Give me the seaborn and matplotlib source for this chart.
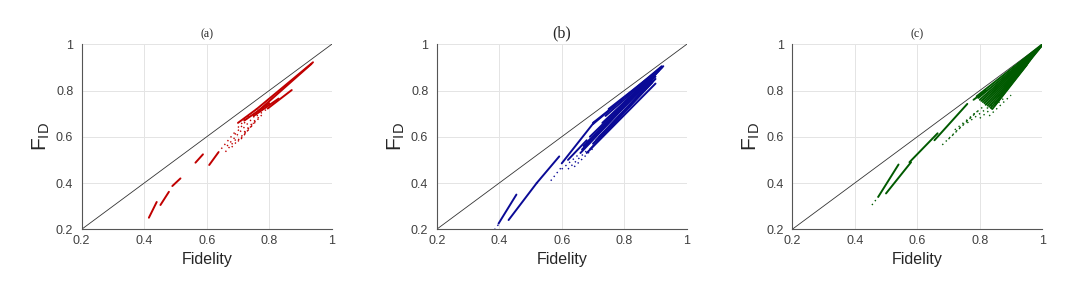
import pandas as pd
import seaborn as sns
import matplotlib.pyplot as plt

# Style
sns.set_theme(style="whitegrid")
plt.rcParams['font.family'] = ['Liberation Sans', 'DejaVu Sans']
plt.rcParams['mathtext.fontset'] = 'custom'
plt.rcParams['mathtext.rm'] = 'Liberation Sans'
plt.rcParams['mathtext.it'] = 'Liberation Sans'

# Streaks: (x0, y0, x1, y1) in data units
a_solid = [(0.415, 0.250, 0.440, 0.318), (0.452, 0.305, 0.479, 0.362),
           (0.490, 0.387, 0.516, 0.420), (0.564, 0.488, 0.588, 0.524),
           (0.608, 0.478, 0.637, 0.532), (0.700, 0.660, 0.760, 0.720),
           (0.760, 0.720, 0.940, 0.922), (0.765, 0.712, 0.935, 0.915),
           (0.720, 0.670, 0.800, 0.745), (0.750, 0.690, 0.830, 0.765),
           (0.795, 0.722, 0.872, 0.802)]
a_dotted = [(0.637, 0.532, 0.690, 0.620), (0.660, 0.535, 0.700, 0.600),
            (0.665, 0.560, 0.760, 0.700), (0.680, 0.555, 0.770, 0.690),
            (0.700, 0.580, 0.780, 0.700), (0.690, 0.610, 0.730, 0.675),
            (0.710, 0.590, 0.750, 0.660), (0.720, 0.620, 0.760, 0.680),
            (0.760, 0.690, 0.795, 0.722), (0.700, 0.640, 0.740, 0.700)]

b_solid = [(0.398, 0.225, 0.455, 0.350), (0.430, 0.240, 0.520, 0.400),
           (0.520, 0.400, 0.592, 0.515), (0.600, 0.485, 0.705, 0.665),
           (0.620, 0.500, 0.680, 0.585), (0.700, 0.660, 0.770, 0.735),
           (0.660, 0.530, 0.925, 0.905), (0.680, 0.530, 0.900, 0.830),
           (0.700, 0.655, 0.920, 0.905), (0.690, 0.600, 0.910, 0.890),
           (0.670, 0.560, 0.915, 0.895), (0.720, 0.630, 0.900, 0.860),
           (0.700, 0.570, 0.890, 0.840), (0.750, 0.720, 0.920, 0.900),
           (0.665, 0.545, 0.920, 0.900), (0.680, 0.575, 0.910, 0.885),
           (0.710, 0.610, 0.900, 0.870), (0.730, 0.660, 0.910, 0.890),
           (0.690, 0.545, 0.890, 0.835), (0.720, 0.600, 0.900, 0.850),
           (0.740, 0.690, 0.915, 0.895), (0.710, 0.585, 0.880, 0.830)]
b_dotted = [(0.385, 0.198, 0.400, 0.225), (0.565, 0.410, 0.600, 0.470),
            (0.600, 0.460, 0.660, 0.530), (0.620, 0.460, 0.680, 0.540),
            (0.640, 0.470, 0.700, 0.550)]

c_solid = [(0.475, 0.340, 0.540, 0.480), (0.500, 0.355, 0.580, 0.490),
           (0.575, 0.490, 0.665, 0.615), (0.655, 0.585, 0.760, 0.742),
           (0.790, 0.775, 1.000, 1.000), (0.800, 0.760, 0.990, 0.985),
           (0.810, 0.750, 0.980, 0.970), (0.820, 0.740, 0.970, 0.950),
           (0.830, 0.730, 0.960, 0.930), (0.840, 0.720, 0.950, 0.910),
           (0.850, 0.740, 0.930, 0.880), (0.780, 0.760, 0.820, 0.800),
           (0.795, 0.768, 0.995, 0.990), (0.805, 0.755, 0.985, 0.978),
           (0.815, 0.745, 0.975, 0.960), (0.825, 0.735, 0.965, 0.940),
           (0.835, 0.725, 0.955, 0.920), (0.860, 0.760, 0.990, 0.980),
           (0.870, 0.790, 0.995, 0.990), (0.880, 0.820, 1.000, 0.995)]
c_dotted = [(0.455, 0.305, 0.475, 0.340), (0.680, 0.565, 0.790, 0.710),
            (0.700, 0.590, 0.800, 0.720), (0.720, 0.630, 0.820, 0.740),
            (0.760, 0.660, 0.860, 0.760), (0.800, 0.680, 0.880, 0.770),
            (0.830, 0.690, 0.900, 0.780)]

panels = [("(a)", a_solid, a_dotted, "#c00000", 8.6, 0.0748),
          ("(b)", b_solid, b_dotted, "#0a0a96", 11.5, 0.3999),
          ("(c)", c_solid, c_dotted, "#005a00", 8.6, 0.7255)]

ticks = [0.2, 0.4, 0.6, 0.8, 1.0]
tick_labels = ["0.2", "0.4", "0.6", "0.8", "1"]
diag = [0.2, 1.0]


def to_frame(segs):
    rows = []
    for i, (x0, y0, x1, y1) in enumerate(segs):
        rows.append({"seg": i, "x": x0, "y": y0})
        rows.append({"seg": i, "x": x1, "y": y1})
    return pd.DataFrame(rows)


fig = plt.figure(figsize=(10.92, 2.97), dpi=100)

for title, solid, dotted, color, tsize, left in panels:
    ax = fig.add_axes([left, 0.228, 0.229, 0.623])
    sns.lineplot(x=diag, y=diag, color="#333333", linewidth=0.6, ax=ax)
    sns.lineplot(data=to_frame(solid), x="x", y="y", units="seg",
                 estimator=None, sort=False, color=color, linewidth=1.4, ax=ax)
    sns.lineplot(data=to_frame(dotted), x="x", y="y", units="seg",
                 estimator=None, sort=False, color=color, linewidth=1.0,
                 linestyle=(0, (1, 2.5)), ax=ax)
    ax.set_xlim(0.2, 1)
    ax.set_ylim(0.2, 1)
    ax.set_xticks(ticks)
    ax.set_yticks(ticks)
    ax.set_xticklabels(tick_labels, fontsize=9, color="#404040")
    ax.set_yticklabels(tick_labels, fontsize=9, color="#404040")
    ax.tick_params(axis="x", direction="in", length=3, pad=4, colors="#404040")
    ax.tick_params(axis="y", direction="in", length=3, pad=6, colors="#404040")
    ax.grid(True, color="#e4e4e4", linewidth=0.7)
    for s in ["top", "right"]:
        ax.spines[s].set_visible(False)
    for s in ["left", "bottom"]:
        ax.spines[s].set_color("#555555")
        ax.spines[s].set_linewidth(0.8)
    ax.set_facecolor("white")
    ax.set_xlabel("Fidelity", fontsize=11.5, color="#262626", labelpad=4)
    ax.set_ylabel(r"F$_{\mathrm{ID}}$", fontsize=15, color="#262626", labelpad=3)
    ax.set_title(title, fontsize=tsize, family="Liberation Serif", pad=5)

fig.savefig("out.png", dpi=100, facecolor="white")
